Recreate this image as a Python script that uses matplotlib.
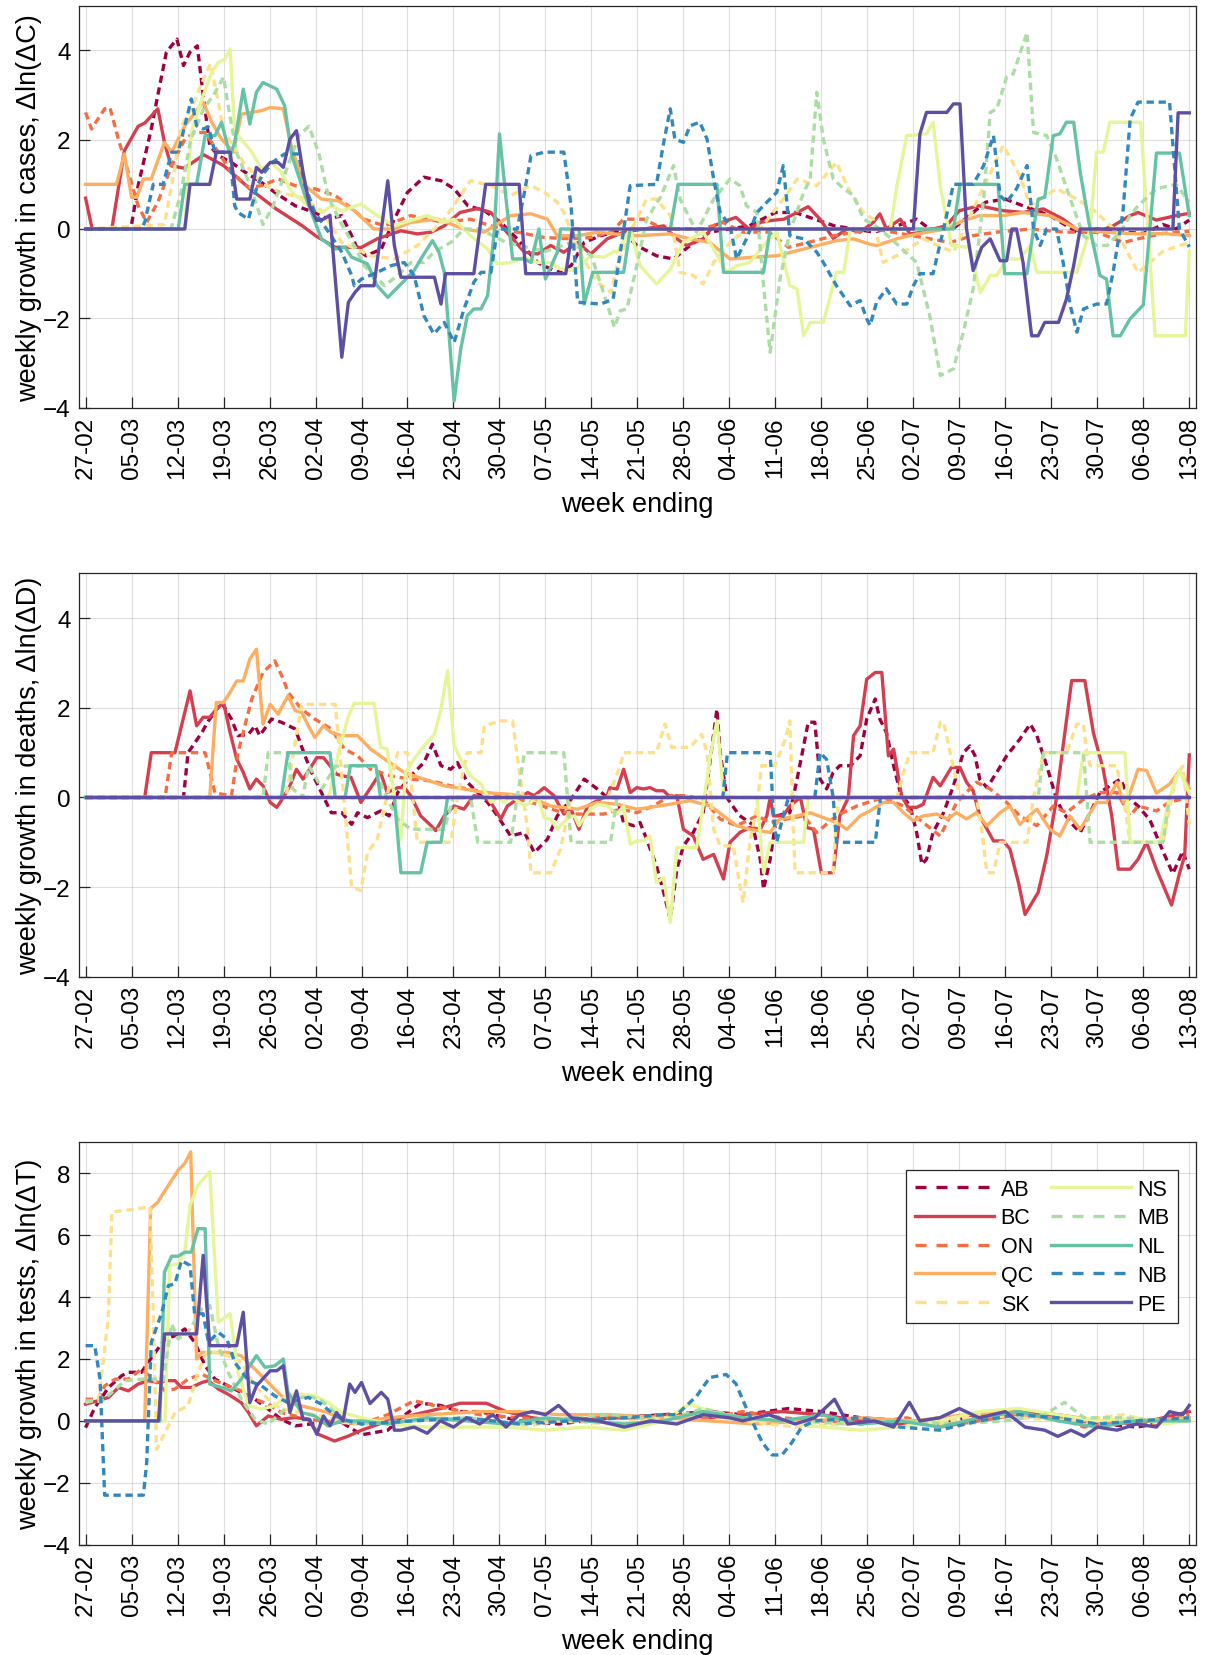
import matplotlib
matplotlib.use("Agg")
import matplotlib.pyplot as plt
from matplotlib.lines import Line2D

plt.rcParams['font.family'] = ['Liberation Sans', 'DejaVu Sans']

# x axis: days since 27-02 (2020), one tick per week
tick_days = list(range(0, 169, 7))
tick_labels = ['27-02', '05-03', '12-03', '19-03', '26-03', '02-04', '09-04', '16-04',
               '23-04', '30-04', '07-05', '14-05', '21-05', '28-05', '04-06', '11-06',
               '18-06', '25-06', '02-07', '09-07', '16-07', '23-07', '30-07', '06-08', '13-08']

provinces = ['AB', 'BC', 'ON', 'QC', 'SK', 'NS', 'MB', 'NL', 'NB', 'PE']
colors = ['#9e0142', '#d53e4f', '#f46d43', '#fdae61', '#fee08b',
          '#e6f598', '#abdda4', '#66c2a5', '#3288bd', '#5e4fa2']
dashed = ['AB', 'ON', 'SK', 'MB', 'NB']

# ---------------- weekly growth in cases (day, value) ----------------
cases_AB = [(0,0),(6,0),(7,0.1),(8,0.97),(10,2.24),(11,3.0),(12.3,3.96),(13.9,4.25),(14.9,3.66),(15.9,3.96),(17,4.1),(17.9,3.0),(18.9,1.87),(20.2,1.64),(22.2,1.49),(24.3,1.27),(26.8,1.04),(28.8,0.82),(31.9,0.52),(34.9,0.37),(36.9,0.22),(39,0.3),(40.5,-0.15),(41.4,-0.45),(42.7,-0.6),(45,-0.45),(47,0.22),(49,0.82),(51.5,1.16),(54.1,1.08),(56.1,0.9),(58.2,0.52),(60.7,0.41),(63.2,0.15),(65.7,-0.22),(68.8,-0.75),(71.8,-0.97),(73.9,-0.82),(75.9,-0.3),(78.4,-0.15),(80.5,-0.07),(81.9,-0.07),(83.9,-0.37),(86.9,-0.6),(89.5,-0.67),(92,-0.37),(95,-0.07),(98,0),(101,0.07),(105,0.37),(108,0.37),(111,0.22),(114,0.07),(117,0),(120,-0.07),(123.5,0.07),(126.5,0.22),(128.5,0),(132,0),(134.5,0.3),(137,0.6),(140,0.67),(142.7,0.52),(146.8,0.3),(150.9,-0.07),(154,0),(158,-0.07),(161,-0.1),(164,0.1),(166,0.0),(168,0.2)]
cases_BC = [(0,0.69),(1,0),(4,0),(5.9,1.75),(8,2.3),(9,2.37),(11,2.69),(12,1.94),(13,1.42),(15,1.36),(18,1.66),(21,1.42),(25,0.9),(29,0.45),(33,0.07),(35,-0.15),(38,-0.41),(42,-0.41),(44.4,-0.22),(48,-0.04),(50.5,-0.11),(52.6,-0.07),(54.6,0.07),(57,0.37),(59.7,0.46),(61.7,0.37),(63.7,0),(66.8,-0.52),(68.8,-0.56),(70.8,-0.37),(72.8,-0.52),(74.9,-0.3),(76.9,-0.56),(79.4,-0.22),(81.9,-0.07),(85,0),(88,0.07),(90,-0.22),(91.5,-0.37),(94,-0.22),(95.6,0.07),(97.6,0.19),(99,0.26),(101,0),(102.8,0.15),(104.3,0.19),(106.3,0.22),(108.3,0.37),(110,0.5),(111.8,0.22),(113.8,-0.21),(115.9,0),(117.9,-0.07),(119.9,0.15),(120.9,0.34),(121.9,0),(124,0.22),(125.5,-0.11),(127.5,-0.07),(129,0),(131,0.07),(133,0.41),(136,0.52),(139.7,0.41),(142.7,0.37),(145.8,0.45),(148.8,0.22),(151.4,-0.07),(153.9,-0.07),(156.4,0.07),(159,0.3),(160.2,0.37),(163,0.2),(166,0.3),(168,0.35)]
cases_ON = [(0,2.61),(0.9,2.24),(2.9,2.69),(3.7,2.72),(5,2.01),(6.5,1.27),(8,0.52),(9.3,0.15),(11,0.6),(13.1,1.42),(15.1,2.01),(16.6,2.16),(18.2,2.16),(20.2,1.72),(22.2,1.27),(24.8,0.93),(26.8,0.97),(29.3,1.12),(31.9,0.97),(34.9,0.9),(38,0.75),(41,0.4),(42.4,0.22),(45.5,0.07),(49.5,0.3),(52,0.22),(54.6,0.15),(58.6,0.22),(61.7,0.07),(65.7,-0.07),(69.8,-0.19),(73.9,-0.22),(76.9,-0.19),(80,-0.07),(81.9,0.22),(85,0.22),(88,0),(94,0),(97,0.15),(100,-0.07),(104,-0.07),(107,-0.41),(110,-0.3),(114,-0.15),(117,-0.07),(120,0),(124,-0.1),(128.5,-0.22),(131.6,-0.3),(135,-0.15),(138.7,-0.07),(143.8,0),(148.8,-0.07),(153.9,-0.07),(158,-0.3),(160.2,-0.22),(164,-0.1),(168,-0.05)]
cases_QC = [(0,1.0),(4.7,1.0),(5.9,1.68),(7,0.71),(7.8,0.71),(8.8,1.12),(10,1.12),(12,1.94),(13.1,1.72),(15.1,2.31),(17.9,2.84),(19.2,2.39),(20.7,2.01),(22.5,1.72),(23.7,2.57),(26.8,2.65),(28.1,2.72),(30.1,2.69),(31.4,1.79),(33.4,0.97),(35.9,0.67),(38.5,0.63),(41,0.4),(43.9,0),(47,0),(49.5,0.15),(53.6,0.22),(57.6,0),(60.7,-0.07),(64.7,0.3),(67.8,0.34),(70.3,0.22),(71.8,-0.15),(74.9,-0.15),(77.9,-0.07),(80.5,-0.11),(83.9,-0.15),(89,-0.11),(92,-0.22),(95,-0.3),(98.1,-0.67),(101.7,-0.63),(105.2,-0.6),(109.3,-0.45),(114.3,-0.26),(116.9,-0.22),(119.4,-0.34),(120.4,-0.37),(123.5,-0.22),(126.5,-0.11),(131,0),(133.6,0.19),(136.1,0.3),(139.7,0.3),(142.7,0.37),(146.8,0.3),(150.9,0),(154.9,-0.07),(160.2,-0.11),(164,-0.1),(168,-0.15)]
cases_SK = [(0,0),(12,0.1),(13.5,1.3),(14.6,2.31),(16.1,2.69),(17.5,3.2),(19,3.7),(20,3.0),(21,2.2),(24,1.5),(27,1.0),(30,0.8),(33,0.7),(36,0.4),(39,-0.3),(43.4,-0.6),(47,-0.67),(50.5,-0.37),(54.6,0.22),(58.6,1.08),(61.7,0.97),(64.7,0.75),(67.8,0.97),(69.8,0.82),(71.8,0.6),(72.8,0.37),(74.9,-0.45),(77.9,-1.19),(80,-1.42),(80.9,-0.82),(82.9,-0.07),(85.4,0.67),(86.9,0.67),(89,0.3),(90.5,-0.97),(92.5,-1.04),(94,-1.23),(95.6,-0.75),(98.1,-0.3),(100.1,-0.07),(102.7,0),(106.2,0.67),(108.3,1.12),(111.3,0.97),(114.3,1.49),(116.4,0.82),(118.4,0.37),(119.9,0.22),(121.4,-0.75),(124.5,-0.52),(127.5,-0.22),(132.1,-0.52),(135.6,0.6),(139.7,1.87),(142.2,1.19),(143.8,0.52),(147.8,0.9),(150.9,0.67),(153.9,0.37),(157,-0.07),(160.2,-0.97),(164,-0.5),(168,-0.3)]
cases_NS = [(0,0),(15.1,0),(16.1,2.16),(17.7,2.91),(19.2,3.51),(20.2,3.73),(21.2,3.8),(22,4.03),(22.7,2.16),(23.7,2.01),(25.3,1.72),(26.8,1.34),(28.3,1.49),(29.8,1.27),(31.4,0.82),(33.9,0.52),(35.9,0.37),(37.5,0.52),(39,0.4),(41.9,0.56),(44.4,0.3),(47,0.07),(49.5,0.19),(52,0.3),(54.6,0.15),(56.1,0.22),(58.6,-0.15),(61.2,-0.45),(62.7,-0.78),(64.7,-0.75),(66.8,-0.63),(68.8,-0.75),(70.8,-0.75),(72.3,-0.9),(74.4,-0.93),(76.9,-0.6),(78.9,-0.63),(80.5,-0.5),(80.9,-0.52),(82.9,0),(84.4,-0.82),(86.9,-1.23),(89,-0.9),(91,-0.3),(94,-0.07),(95.6,-0.45),(97.6,-0.97),(99.1,-0.82),(101.1,-0.75),(103.2,-0.37),(105.2,-0.07),(107.2,-1.27),(108.3,-1.34),(109.3,-2.39),(110.3,-2.09),(112.3,-2.09),(114.3,-0.97),(115.4,-0.97),(116.4,0),(122.5,0),(123.5,0.97),(125,2.09),(128,2.13),(129,2.39),(130.1,0.97),(131.8,-0.37),(134.5,-0.41),(136.2,-1.42),(137.7,-1.04),(138.7,-1.04),(140.2,-0.67),(142.2,-0.67),(143.8,-0.37),(144.8,-0.97),(150.9,-0.97),(152.9,0),(153.9,1.72),(154.9,1.72),(155.9,2.39),(160.6,2.39),(162.8,-2.39),(167.4,-2.39),(168,-0.5)]
cases_MB = [(0,0),(13,0),(14.5,0.8),(16,2.0),(18,2.7),(19.5,3.0),(21,3.4),(22,2.5),(23,1.7),(25,1.0),(27,0.1),(28.5,0.5),(30.5,1.3),(32.5,2.1),(34,2.3),(35.5,1.7),(37,0.7),(39,0.1),(41,-0.4),(42.4,-0.82),(45.5,-1.27),(47.5,-1.04),(49.5,-0.75),(51.5,-0.75),(53,-0.52),(55.6,-0.3),(57.6,0),(60,0),(64,-0.3),(70,-0.5),(74,-0.3),(77,-0.6),(79,-1.5),(80.5,-2.2),(81.4,-1.83),(82.4,-1.79),(83.9,-0.82),(85.4,0.22),(87.5,0.71),(89.5,1.42),(90.5,0.67),(93,-0.07),(95.6,0.67),(98.1,1.12),(99.6,0.97),(100.6,0.52),(102.2,0.37),(103.2,-1.27),(104.2,-2.76),(105.7,-1.12),(107.2,-0.07),(109.3,0.82),(110.3,1.12),(111.3,3.06),(112.3,2.01),(113.8,1.12),(115.4,0.9),(116.9,0.75),(118.4,0.22),(120,0.1),(122.5,-0.2),(126.5,-0.75),(128.5,-1.94),(130.1,-3.28),(132.1,-3.13),(133.6,-2.31),(135.1,-1.34),(136.7,0.67),(137.7,2.61),(138.7,2.69),(140.2,3.4),(141.2,3.47),(143.3,4.4),(143.8,3.28),(144.3,2.16),(146.3,2.09),(147.8,1.57),(149.9,0.67),(151.9,-0.15),(153.9,-0.37),(155.5,-0.37),(157.5,-0.07),(159,0.3),(160.2,0.52),(163,0.9),(166,1.0),(168,0.6)]
cases_NL = [(0,0),(14.1,0),(15.1,1.0),(16.9,1.0),(18.2,2.09),(19.7,2.09),(20.7,2.39),(22,1.64),(22.7,1.94),(24,3.13),(25,2.35),(26,3.06),(27,3.28),(29.1,3.13),(30.3,2.76),(31.4,1.64),(33.4,0.75),(35.9,-0.22),(38,-0.45),(39.5,-0.41),(40.5,-0.63),(42.9,-0.78),(44.4,-1.27),(46,-1.53),(47,-1.38),(48.5,-1.16),(50,-0.93),(51.5,-0.56),(52.8,-0.26),(53.8,-0.52),(54.6,-0.97),(56.1,-3.85),(57.1,-2.69),(58.1,-1.94),(59.1,-1.79),(60.2,-1.79),(61.2,-1.49),(62.2,-0.07),(63,2.13),(64,0.67),(65,-0.67),(66.8,-0.67),(67.8,-0.75),(69,0),(70,-1.12),(71.8,-0.52),(72.3,0),(75.1,0),(75.9,-1.68),(77.2,-0.97),(81.9,-0.97),(82.9,0),(89,0),(90.2,1.0),(96.1,1.0),(97.1,-0.97),(103.2,-0.97),(104.2,0),(132.1,0),(133.1,1.0),(138.9,1.0),(139.9,-1.0),(143.3,-1.0),(144.3,0),(145,0.67),(146,0.71),(147.3,2.09),(148.3,2.13),(149.3,2.39),(150.4,2.39),(151.4,1.27),(152.9,0),(154.4,-1.04),(155.4,-1.12),(156.4,-2.39),(157.5,-2.39),(159,-2.01),(161,-1.7),(163,1.7),(166.5,1.7),(168,0.3)]
cases_NB = [(0,0),(8.5,0),(9,0.15),(10.3,1.0),(11.8,1.0),(13.1,1.72),(14.1,1.72),(15.1,2.31),(16.1,2.91),(16.9,2.31),(17.9,2.24),(18.7,2.28),(19.7,1.72),(21,1.72),(22,1.64),(22.7,0.52),(23.2,0.37),(24.8,0.22),(26,0.9),(26.8,1.19),(28.5,1.5),(30.3,1.68),(32.4,1.68),(33.4,0.97),(34.9,0.37),(37,-0.07),(39,-0.52),(40.5,-1.04),(40.9,-1.27),(42,-1.12),(44.4,-0.97),(46.5,-0.82),(48.5,-0.75),(50,-1.04),(51.5,-1.94),(53,-2.35),(54.6,-2.09),(56.1,-2.54),(57.6,-1.79),(59.1,-1.19),(60.2,-0.97),(61.7,-0.97),(62.7,0),(65.7,0),(66.8,0.82),(67.8,1.64),(69.8,1.72),(72.8,1.72),(73.9,0.52),(74.9,-1.64),(78.4,-1.68),(80.3,-1.57),(81.4,-0.52),(82.9,0.97),(86.9,1.0),(88,1.94),(89,2.69),(89.7,2.01),(91,1.94),(92,2.31),(93.5,2.39),(94.6,2.01),(95.6,1.12),(96.6,0.37),(98.1,0.07),(99.1,-0.67),(100.6,-0.22),(102.2,0.37),(103.7,0.6),(105.2,0.82),(106.2,1.42),(106.7,0.67),(107.2,-0.15),(109.3,-0.22),(111.3,-0.52),(112.3,-0.75),(114.3,-1.27),(116.4,-1.72),(117.9,-1.6),(118.9,-2.01),(119.4,-2.16),(120.4,-1.64),(121.9,-1.34),(123.5,-1.68),(125,-1.68),(126,-1.27),(127,-1.0),(129,-1.0),(130.6,0),(132.1,1.0),(135.1,1.0),(136.7,1.42),(138.2,2.09),(139.2,0.75),(140.2,0.6),(141.7,0.9),(143.3,1.42),(144.3,0),(145.3,-0.37),(146.3,0),(147.8,0),(148.8,-0.75),(149.9,-1.72),(150.9,-2.31),(151.9,-1.79),(153.9,-1.68),(155.4,-1.68),(156.4,-0.97),(157.9,0.37),(159,2.46),(160.2,2.84),(165,2.84),(166.5,0),(168,-0.4)]
cases_PE = [(0,0),(15.1,0),(15.9,1.0),(18.9,1.0),(19.9,1.72),(22,1.72),(23,0.67),(25,0.67),(26,1.38),(26.8,1.27),(28.1,1.49),(29.3,1.49),(30.1,1.38),(31.1,2.01),(32.1,2.2),(33.1,1.27),(34.1,0.52),(35.2,0.19),(36.2,0.22),(37.2,0.31),(39,-2.87),(40,-1.64),(41,-1.42),(41.9,-1.27),(43.9,-1.27),(46,1.08),(47,-0.37),(48,-1.08),(53.1,-1.08),(54.1,-1.68),(54.8,-1.0),(59.1,-1.0),(60.9,1.0),(66,1.0),(67,-1.0),(73.1,-1.0),(74.1,0),(126,0),(127,2.13),(128,2.61),(131.1,2.61),(132.1,2.8),(133.1,2.8),(134.1,0),(135.1,-0.93),(136.4,-0.41),(137.7,-0.22),(139.2,-0.71),(140.2,-0.71),(141,0),(141.7,0),(142.7,-0.75),(144,-2.39),(145,-2.39),(146,-2.09),(148.1,-2.09),(149.3,-1.57),(150.4,-0.82),(151.4,0),(165.5,0),(166.3,2.6),(168,2.6)]

# ---------------- weekly growth in deaths ----------------
deaths_AB = [(0,0),(14.9,0),(15.6,1.0),(17.7,1.45),(18.7,1.71),(20.7,2.12),(22.2,1.75),(23.2,1.38),(24.8,1.41),(25.8,1.6),(26.5,1.38),(28.3,1.75),(29.8,1.68),(31.9,1.53),(33.4,0.93),(34.4,0.56),(35.9,0.11),(37.4,-0.34),(39,-0.34),(40.5,-0.6),(41.4,-0.34),(42.9,-0.45),(44.9,-0.3),(46.2,-0.41),(47.5,0.11),(49.5,0.48),(51.5,0.78),(52.8,1.19),(54.1,0.71),(55.6,0.63),(56.6,0.78),(58.1,0.34),(59.7,0.11),(61.2,-0.11),(62.7,-0.41),(64.7,-0.86),(66.8,-0.78),(68.3,-1.23),(70.3,-0.93),(71.8,-0.41),(73.9,-0.04),(75.9,0.41),(77.9,0.19),(79.4,0),(80.9,0),(81.9,-0.56),(83.4,-0.63),(84.4,-0.56),(85.4,-0.93),(86.9,-1.53),(88,-2.12),(89,-2.72),(90,-1.6),(91,-1.08),(92.5,-0.78),(94,-0.34),(95.1,0.86),(96.1,1.97),(96.6,1.0),(97.6,0),(99.5,-0.4),(101.5,-0.6),(102.7,-1.38),(103.2,-2.05),(104.2,-1.38),(105.2,-0.41),(107.2,-0.34),(108.3,0.41),(109.3,1.15),(110,1.68),(111,1.68),(111.8,0.41),(112.8,0.19),(113.8,0.56),(114.8,0.71),(116.4,0.71),(117.9,0.93),(118.9,1.75),(120.2,2.2),(120.9,1.75),(121.9,1.45),(123,0.71),(124,0.11),(125.5,-0.19),(126.5,-0.78),(127.3,-1.49),(128,-1.38),(129,-0.78),(130.6,-0.34),(132.1,0.26),(133.6,1.0),(134.6,1.15),(135.4,0.93),(136.1,0.41),(137.2,0.22),(138.7,0.56),(140.2,0.93),(142.2,1.3),(143.8,1.64),(144.8,1.38),(146.3,0.71),(147.8,-0.04),(148.8,-0.34),(150.4,-0.63),(151.4,-0.78),(152.9,-0.34),(154.4,0.11),(155.9,0.26),(157.5,0.41),(159,-0.04),(160.2,-0.19),(162,-0.5),(164,-1.2),(165.5,-1.7),(167,-1.2),(168,-1.6)]
deaths_BC = [(0,0),(9,0),(10,1.0),(13.6,1.0),(15.9,2.38),(16.9,1.6),(17.9,1.79),(18.9,1.79),(19.9,1.97),(21,2.12),(22,1.45),(23,0.86),(24,0.56),(25,0.19),(26,0.41),(27,0.26),(28.1,-0.11),(29.1,-0.22),(30.1,0),(31.1,0.26),(32.1,0.63),(33.1,0.41),(34.1,0.63),(35.2,0.89),(36.2,0.89),(37.2,0.71),(38.2,0.52),(39.2,0.48),(40.4,0.45),(41.9,-0.11),(43.4,0.22),(44.9,0.56),(45.9,0.11),(47.5,0.22),(48.5,0.22),(49.5,0.04),(51,-0.41),(52.6,-0.63),(53.3,-0.74),(54.6,-0.41),(56.1,-0.19),(57.6,-0.26),(59.1,0.04),(60.7,0),(61.7,-0.11),(63.2,-0.48),(64.2,-0.19),(65.7,-0.04),(67.3,0.11),(68.3,0.04),(69.8,0.22),(71.3,0.04),(72.8,-0.37),(73.9,-0.26),(75.1,-0.71),(76.4,-0.19),(77.9,-0.07),(79.4,0.04),(79.8,0.22),(80.9,0.19),(81.9,0.63),(82.9,0.11),(83.9,0.22),(84.9,0.19),(85.9,0.22),(86.9,0.15),(88,0.15),(89,0),(90,0.04),(91,-0.71),(92.5,-0.86),(94,-1.38),(95.6,-1.27),(97.1,-1.82),(98.1,-1.0),(99.6,-0.78),(101.1,-0.67),(102.7,-0.71),(103.7,-0.41),(104.2,0),(104.7,-0.41),(106.2,-0.41),(107.2,-0.19),(108.8,0),(109.8,-0.67),(110.8,-0.71),(112,-1.68),(113.8,-1.68),(114.8,-0.41),(116.1,0),(116.9,1.38),(117.9,1.6),(118.9,2.64),(120.2,2.79),(121.2,2.79),(122.2,0.93),(123,1.08),(124.2,0.04),(125.2,-0.22),(126.5,-0.22),(127.5,-0.15),(129,0.45),(130.1,0.26),(131.8,0.67),(133.1,0.67),(134.1,0.34),(135.1,0.15),(136.1,-0.41),(138.2,-0.97),(139.7,-0.97),(140.7,-1.15),(142,-1.9),(143,-2.61),(145,-2.12),(146.3,-1.3),(147.6,-0.19),(148.8,1.15),(150.1,2.61),(152.1,2.61),(153.4,1.45),(154.9,0.63),(156.2,-0.41),(157.2,-1.6),(159,-1.6),(160.2,-1.38),(161.5,-1.0),(163,-1.6),(165.3,-2.4),(166.5,-1.7),(167.3,-1.3),(168,0.95)]
deaths_ON = [(0,0),(12.1,0),(13.1,1.0),(18.2,1.0),(19.7,0.1),(22.2,0.04),(23.2,1.0),(25.3,2.2),(27,2.79),(28.8,3.05),(30.1,2.64),(30.8,2.35),(32.9,1.97),(34.9,1.75),(37.4,1.53),(39.4,1.08),(41.4,0.93),(43.4,0.63),(46.5,0.48),(49.5,0.41),(52.6,0.37),(55.6,0.26),(59.7,0.15),(63.7,0.04),(67.8,-0.11),(71.8,-0.3),(74.9,-0.37),(78.9,-0.37),(81.4,-0.26),(83.9,-0.34),(86.4,-0.19),(89,0.04),(91.5,0.04),(94,-0.04),(96.6,-0.48),(99.1,-0.63),(102.2,-0.41),(104.2,-0.56),(106.7,-0.48),(109.3,-0.41),(111.3,-0.78),(114.3,-0.41),(117.4,-0.19),(121.4,0),(124.5,-0.19),(127.5,-0.56),(130.1,-0.86),(132.6,-0.11),(135.6,0.34),(137.7,0.19),(140.2,-0.11),(142.2,-0.41),(144.8,-0.63),(147.3,-0.19),(149.3,-0.34),(151.9,-0.04),(154.4,0.11),(157,0.11),(159,-0.41),(160.2,-0.19),(163,-0.3),(165,-0.1),(168,0.0)]
deaths_QC = [(0,0),(18.9,0),(19.9,2.12),(21,2.12),(22,2.35),(23,2.6),(24,2.6),(25,3.09),(26,3.31),(27,1.64),(28.1,2.08),(29.3,1.86),(30.8,2.27),(31.9,1.94),(32.9,1.9),(33.9,1.6),(34.9,1.34),(36.2,1.6),(37.4,1.45),(39,1.38),(41.4,1.38),(43.4,1.08),(45.5,0.86),(48.5,0.56),(51.5,0.41),(54.6,0.26),(57.6,0.19),(60.7,0.11),(64.7,0.07),(67.8,0),(70.8,-0.19),(74.9,-0.26),(77.9,-0.11),(80.9,-0.15),(83.9,-0.26),(85.9,-0.22),(89,-0.15),(92,-0.07),(95.1,-0.19),(97.1,-0.41),(99.1,-0.63),(101.1,-0.71),(104.2,-0.78),(105.7,-0.48),(108.3,-0.41),(110.3,-0.34),(112.3,-0.45),(114.3,-0.56),(115.9,-0.71),(117.9,-0.41),(119.4,-0.3),(121.4,-0.11),(123,-0.11),(124.5,-0.34),(126,-0.52),(127.5,-0.41),(129.6,-0.37),(131.1,-0.48),(132.6,-0.34),(134.1,-0.48),(135.6,-0.34),(137.2,-0.63),(139.2,-0.34),(140.7,-0.19),(142.2,-0.6),(144.8,-0.26),(146.8,-0.71),(148.3,-0.86),(149.8,-0.41),(151.4,-0.71),(152.9,-0.34),(153.9,-0.11),(155.4,-0.11),(157,0.34),(158,-0.11),(159,0.11),(160.2,0.63),(161.5,0.6),(163,0.1),(165,0.3),(166.5,0.6),(168,0.2)]
deaths_SK = [(0,0),(30.5,0),(32.9,2.08),(38,2.08),(39,0.5),(40.5,-2.0),(41.9,-2.08),(42.9,-1.23),(44.4,-0.93),(46,0.11),(47.5,1.0),(49,1.0),(49.8,0),(50.5,-1.0),(55.6,-1.0),(56.6,0),(58.1,1.0),(60.2,1.0),(60.7,1.6),(63.2,1.71),(65,1.71),(65.7,0.93),(67.3,-0.71),(67.8,-1.68),(70.8,-1.68),(72.3,-1.15),(73.9,0),(79.5,0),(81.4,0.71),(81.9,1.0),(86.9,1.0),(88.2,1.64),(89.2,1.12),(92,1.12),(93.8,1.41),(94.6,1.0),(95.6,-0.71),(96.6,-1.08),(98.6,-1.08),(99.6,-1.97),(100.1,-2.35),(101.1,-1.0),(102.2,-0.19),(102.9,0.71),(104.9,0.71),(105.7,1.0),(106.5,1.3),(107.2,1.71),(107.7,-0.56),(108,-1.68),(113.8,-1.68),(114.3,-0.41),(114.8,0),(123.5,0),(124.5,0.56),(125.5,1.0),(129,1.0),(130.1,1.68),(130.6,1.68),(131.6,1.0),(133.1,0),(135.6,0),(136.4,-0.71),(137.2,-1.68),(138.2,-1.68),(139.2,-1.0),(143.3,-1.0),(144.3,0),(145.8,1.0),(149.3,1.0),(150.9,1.64),(151.9,1.64),(152.4,1.0),(152.9,0.71),(156.9,0.71),(158,0),(159,-1.0),(164,-1.0),(166,0.5),(167,0.7),(168,-0.6)]
deaths_NS = [(0,0),(37,0),(38.5,1.0),(40,1.82),(40.9,2.1),(43.9,2.1),(44.9,1.12),(45.9,1.08),(47,0.04),(48,-0.93),(48.7,0.56),(50,0.86),(51.5,1.15),(53.1,1.41),(54.1,1.97),(55.1,2.83),(56.1,1.15),(57.1,0.86),(58.6,0.48),(60.2,0.3),(61.7,-0.11),(62.7,0),(63.7,-0.11),(64.7,0.04),(65.7,-0.07),(66.8,-0.19),(67.8,-0.11),(68.8,0.04),(69.8,-0.45),(70.8,-0.48),(71.8,-0.71),(73.4,-0.45),(74.4,-0.41),(75.1,-0.63),(76.4,-0.34),(77.9,-0.15),(79.4,-0.19),(80.9,-0.37),(81.9,-0.19),(82.9,-1.04),(83.9,-0.97),(84.9,-0.97),(85.9,-0.86),(86.9,-1.9),(88,-1.79),(89,-2.79),(90,-1.12),(93,-1.12),(94,-0.19),(95.1,0.93),(96.1,1.71),(97.1,0.11),(98,0),(102.2,0),(103.2,-1.68),(104.2,-1.0),(109.3,-1.0),(110,0),(150.9,0),(151.9,1.0),(158.2,1.0),(159,-1.0),(163.5,-1.0),(165,0),(166.5,0.6),(168,0.1)]
deaths_MB = [(0,0),(27,0),(27.8,1.0),(30.8,1.0),(31.5,0.2),(33,0.0),(34,0.7),(36,0.2),(38,0.7),(44,0.7),(45.5,0.1),(47.5,-0.48),(49.5,-0.71),(54.6,-0.71),(56,0),(58.6,0),(59.7,-1.0),(64.7,-1.0),(65.7,0),(66.8,1.0),(72.8,1.0),(73.9,-1.0),(79.9,-1.0),(80.9,0),(145,0),(145.8,1.0),(151.9,1.0),(152.9,-1.0),(164,-1.0),(165,0),(168,0)]
deaths_NL = [(0,0),(29.8,0),(30.8,1.0),(37.2,1.0),(38,0),(39.5,0),(40.3,0.71),(44.2,0.71),(44.9,0),(47,0),(48,-1.68),(51,-1.68),(52,-1.0),(54.1,-1.0),(55.1,0),(168,0)]
deaths_NB = [(0,0),(97,0),(97.7,1.0),(104.2,1.0),(104.7,-0.41),(105.2,-1.0),(106.2,-0.4),(107,0),(111,0),(111.8,1.0),(112.8,0.85),(113.8,0),(114.3,-1.0),(120.2,-1.0),(121,0),(168,0)]
deaths_PE = [(0,0),(168,0)]

# ---------------- weekly growth in tests ----------------
tests_AB = [(0,-0.22),(1.4,0.43),(3.5,1.08),(5.5,1.46),(6.5,1.57),(8.5,1.57),(10.6,2.21),(12.1,2.65),(13.6,2.75),(15.1,2.97),(16.6,2.54),(18.2,1.78),(19.7,1.35),(21.7,1.13),(23.7,0.92),(25.8,0.7),(27.8,0.38),(29.8,0.05),(31.9,-0.16),(33.9,-0.11),(35.9,-0.05),(39,-0.05),(42,-0.45),(46,-0.3),(48,0.1),(51,0.57),(54,0.5),(57,0.3),(60,0.3),(66,0.0),(72,-0.1),(80,0.1),(88,0.2),(95,0.3),(100,0.2),(107,0.4),(112,0.3),(118,0.1),(125,0.0),(130,-0.1),(136,0.2),(142,0.3),(148,0.1),(155,-0.1),(160,-0.2),(163,-0.1),(168,0.1)]
tests_BC = [(0,0.54),(1.9,0.65),(3.5,0.76),(5,1.08),(6.5,0.97),(8,1.19),(9.5,1.3),(11.1,1.24),(12.6,1.3),(13.6,1.3),(14.6,1.08),(16.1,1.08),(17.7,1.24),(18.7,1.3),(20.2,1.03),(21.7,0.86),(23.7,0.59),(24.8,0.27),(26,-0.16),(27.8,0.16),(29.8,0.05),(31.9,0.11),(33.9,0.05),(35.4,-0.43),(37.9,-0.65),(40,-0.49),(42,-0.3),(46,0.0),(50,0.2),(54,0.4),(57,0.57),(61,0.57),(64,0.3),(68,0.1),(72,0.0),(78,0.1),(84,0.1),(90,0.2),(95,0.1),(100,0.2),(106,0.3),(112,0.2),(118,0.0),(124,-0.1),(130,0.1),(136,0.2),(142,0.3),(148,0.2),(154,0.0),(160,-0.1),(164,0.1),(168,0.3)]
tests_ON = [(0,0.7),(1.9,0.7),(2.9,1.13),(4.5,1.35),(6.5,1.35),(8.5,1.67),(10.6,1.3),(12.1,0.97),(13.6,1.03),(15.6,1.35),(17.7,1.51),(19.7,1.3),(21.7,1.13),(23.7,0.97),(25.8,0.7),(27.8,0.54),(29.8,0.27),(31.9,0.16),(33.9,0.05),(39,-0.05),(42,-0.1),(46,0.2),(50,0.65),(55,0.4),(60,0.2),(66,0.1),(72,0.0),(80,0.1),(88,0.2),(95,0.1),(100,0.3),(106,0.1),(112,0.0),(118,-0.1),(125,0.1),(130,-0.2),(136,0.0),(142,0.2),(148,0.1),(152,-0.2),(158,0.0),(163,-0.1),(168,0.2)]
tests_QC = [(0,0),(9,0),(9.9,6.86),(11,7.07),(12.6,7.61),(14.1,8.1),(15.1,8.32),(16,8.69),(16.4,5.67),(16.9,2.0),(17.7,2.21),(21.7,2.21),(23.7,2.1),(25.8,1.67),(27.8,1.24),(29.8,0.81),(31.9,0.54),(34.9,0.38),(36.9,0.27),(39,0.05),(41,-0.1),(46,0.1),(52,0.2),(60,0.3),(66,0.3),(72,0.2),(80,0.2),(88,0.1),(95,0.0),(102,-0.1),(110,0.0),(118,0.1),(126,0.0),(134,0.2),(140,0.3),(146,0.1),(152,0.0),(160,0.0),(168,0.1)]
tests_SK = [(0,0.6),(2,0.7),(3.45,3.3),(4,6.75),(6,6.8),(9.8,6.91),(10.3,3.5),(10.8,-0.92),(12.1,-0.38),(13.6,0.27),(15.6,0.49),(17.1,1.57),(18.4,2.21),(19.7,2.21),(21.7,2.1),(23.7,1.89),(25.8,1.13),(27.8,0.7),(29.8,0.38),(32.9,0.27),(35.9,0.16),(39,-0.05),(42,-0.1),(48,0.0),(54,0.1),(60,0.0),(66,-0.2),(72,0.0),(80,-0.1),(88,0.1),(94,0.2),(100,0.0),(108,-0.2),(116,-0.1),(124,0.0),(130,-0.1),(136,0.2),(142,0.1),(150,0.0),(158,0.2),(164,-0.1),(168,0.1)]
tests_NS = [(0,0),(12.1,0),(12.8,5.02),(14.1,5.08),(15.1,5.45),(15.9,6.97),(17.1,7.61),(18.9,8.05),(20.2,3.19),(22,3.46),(23.2,1.57),(24.8,0.49),(26.8,0.38),(28.8,0.49),(30.8,0.86),(32.9,0.86),(34.9,0.81),(36.9,0.59),(39,0.27),(42,0.1),(46,-0.1),(52,-0.2),(58,-0.2),(64,-0.2),(70,-0.3),(76,-0.2),(82,-0.3),(88,0.0),(92,0.55),(95,0.3),(100,0.1),(106,0.0),(112,-0.2),(118,-0.3),(124,-0.2),(130,0.0),(136,0.3),(142,0.4),(148,0.2),(154,0.0),(160,0.1),(164,-0.1),(168,0.0)]
tests_MB = [(0,0.65),(2.4,0.62),(6,1.3),(8.5,1.35),(10.6,1.35),(11.8,1.3),(13.1,3.13),(14.1,2.65),(15.6,2.86),(17.7,3.62),(18.9,3.73),(20.2,2.43),(21.7,1.57),(23.7,0.7),(25.8,0.05),(27.8,-0.11),(29.8,0.27),(31.9,0.7),(33.9,0.81),(35.9,0.65),(38,0.27),(40,0.0),(42,-0.1),(50,0.0),(58,0.1),(66,-0.1),(74,0.1),(80,0.2),(88,0.0),(94,0.4),(100,0.1),(108,0.0),(116,-0.1),(124,0.0),(132,-0.1),(140,0.0),(146,0.2),(149,0.6),(152,0.1),(158,0.1),(164,0.0),(168,0.1)]
tests_NL = [(0,0),(11.3,0),(12,4.81),(13.1,5.32),(14.1,5.32),(15.1,5.45),(16.1,5.45),(17.1,6.21),(18.2,6.21),(18.9,1.19),(20.7,1.08),(22.2,0.97),(23.7,1.35),(26,2.11),(27.3,1.73),(28.8,1.78),(30.1,2.0),(30.8,0.92),(32.9,0.27),(34.9,0.16),(36.9,-0.16),(39,0),(42,0.0),(46,-0.1),(52,0.1),(58,0.0),(64,-0.1),(70,0.1),(76,0.0),(82,-0.1),(88,0.0),(94,0.3),(100,0.1),(106,0.0),(112,0.2),(118,-0.1),(124,0.0),(130,-0.2),(136,0.1),(142,0.3),(148,0.0),(154,-0.2),(160,0.0),(168,0.0)]
tests_NB = [(0,2.43),(1.4,2.43),(2.2,1.35),(2.9,-2.4),(8.8,-2.4),(9.3,-1.35),(10,2.54),(11.6,3.5),(12.6,4.37),(13.6,4.43),(14.6,5.18),(15.9,5.02),(16.6,3.46),(17.9,3.46),(18.7,2.54),(20.2,2.86),(21.5,2.65),(22.7,1.89),(24.8,1.3),(26.8,1.13),(28.8,0.81),(30.8,0.59),(33.9,0.76),(35.9,0.54),(38,0.16),(40,0.0),(42,-0.1),(50,0.0),(58,0.1),(66,-0.1),(74,0.0),(82,0.1),(88,0.2),(90,0.2),(93,0.8),(95,1.4),(97.5,1.5),(99,1.2),(101,0.2),(103,-0.7),(104.5,-1.1),(106,-1.1),(107.5,-0.7),(109,-0.2),(111,0.0),(118,0.1),(124,-0.2),(130,-0.3),(136,0.0),(142,0.2),(148,0.1),(154,-0.1),(160,0.0),(168,0.1)]
tests_PE = [(0,0),(11.1,0),(12,2.81),(16.9,2.81),(17.9,5.35),(18.9,2.43),(23,2.43),(24,3.51),(25,0.59),(26,1.13),(28.1,1.62),(29.1,1.62),(30.1,1.78),(31.1,0.27),(32.1,0.97),(33.1,0.05),(34.1,0.05),(35.2,-0.43),(36.2,0.16),(37.2,-0.16),(38.2,0.27),(39.2,0),(40.2,1.19),(41,0.92),(42,1.24),(43.3,0.56),(45,0.92),(46,0.7),(47,-0.3),(48,-0.3),(50,-0.2),(52,-0.4),(54,0.0),(56,-0.2),(58,0.1),(60,-0.1),(62,0.2),(64,-0.2),(66,0.2),(68,0.3),(70,0.2),(72,0.5),(74,0.1),(78,0.0),(82,-0.2),(86,0.0),(90,-0.1),(94,0.2),(98,0.1),(100,0.0),(104,0.2),(108,-0.1),(111,0.1),(114,0.7),(116,-0.1),(120,0.0),(123,-0.2),(125.4,0.6),(127,0.0),(130,0.1),(133,0.4),(136,0.1),(140,0.3),(143,-0.2),(146,-0.3),(148,-0.5),(150,-0.3),(152,-0.5),(154,-0.2),(157,-0.3),(160,-0.1),(163,-0.2),(165,0.3),(167,0.2),(168,0.5)]

cases = [cases_AB, cases_BC, cases_ON, cases_QC, cases_SK, cases_NS, cases_MB, cases_NL, cases_NB, cases_PE]
deaths = [deaths_AB, deaths_BC, deaths_ON, deaths_QC, deaths_SK, deaths_NS, deaths_MB, deaths_NL, deaths_NB, deaths_PE]
tests = [tests_AB, tests_BC, tests_ON, tests_QC, tests_SK, tests_NS, tests_MB, tests_NL, tests_NB, tests_PE]

# data, y label, y range, y ticks, [bottom, height] in figure fractions
panels = [
    (cases, 'weekly growth in cases, \u0394ln(\u0394C)', (-4, 5), [-4, -2, 0, 2, 4], [0.7532, 0.2428]),
    (deaths, 'weekly growth in deaths, \u0394ln(\u0394D)', (-4, 5), [-4, -2, 0, 2, 4], [0.4096, 0.2435]),
    (tests, 'weekly growth in tests, \u0394ln(\u0394T)', (-4, 9), [-4, -2, 0, 2, 4, 6, 8], [0.0666, 0.2430]),
]

ink = '#262626'
LW = 2.4
fig = plt.figure(figsize=(12.1, 16.56), dpi=100)

for i, (data, ylab, ylim, yticks, (bottom, height)) in enumerate(panels):
    ax = fig.add_axes([0.0653, bottom, 0.923, height])
    for name, col, series in zip(provinces, colors, data):
        xs = [p[0] for p in series]
        ys = [p[1] for p in series]
        if name in dashed:
            ax.plot(xs, ys, color=col, lw=LW, dashes=(2.2, 1.4), zorder=2)
        else:
            ax.plot(xs, ys, color=col, lw=LW, zorder=2)
    ax.set_xlim(-1, 169)
    ax.set_ylim(*ylim)
    ax.set_xticks(tick_days)
    ax.set_xticklabels(tick_labels, rotation=90)
    ax.set_yticks(yticks)
    ax.grid(True, color=ink, alpha=0.15, lw=0.8)
    ax.set_axisbelow(True)
    ax.tick_params(direction='in', length=8, width=0.9, colors=ink, labelsize=17.5,
                   labelcolor='black', pad=6)
    for sp in ax.spines.values():
        sp.set_color(ink)
        sp.set_linewidth(0.9)
    ax.set_xlabel('week ending', fontsize=19.5, labelpad=9)
    ax.set_ylabel(ylab, fontsize=19.5, labelpad=1)

    if i == 2:
        handles = []
        for name, col in zip(provinces, colors):
            if name in dashed:
                handles.append(Line2D([], [], color=col, lw=LW, dashes=(3.3, 3.0)))
            else:
                handles.append(Line2D([], [], color=col, lw=LW))
        leg = ax.legend(handles, provinces, ncol=2, loc='upper right',
                        bbox_to_anchor=(0.984, 0.931), borderaxespad=0,
                        fontsize=15.5, handlelength=3.7, handletextpad=0.3,
                        columnspacing=0.85, labelspacing=0.36, borderpad=0.4,
                        fancybox=False, framealpha=1, edgecolor=ink)
        leg.get_frame().set_linewidth(0.9)

fig.savefig('out.png', dpi=100)
